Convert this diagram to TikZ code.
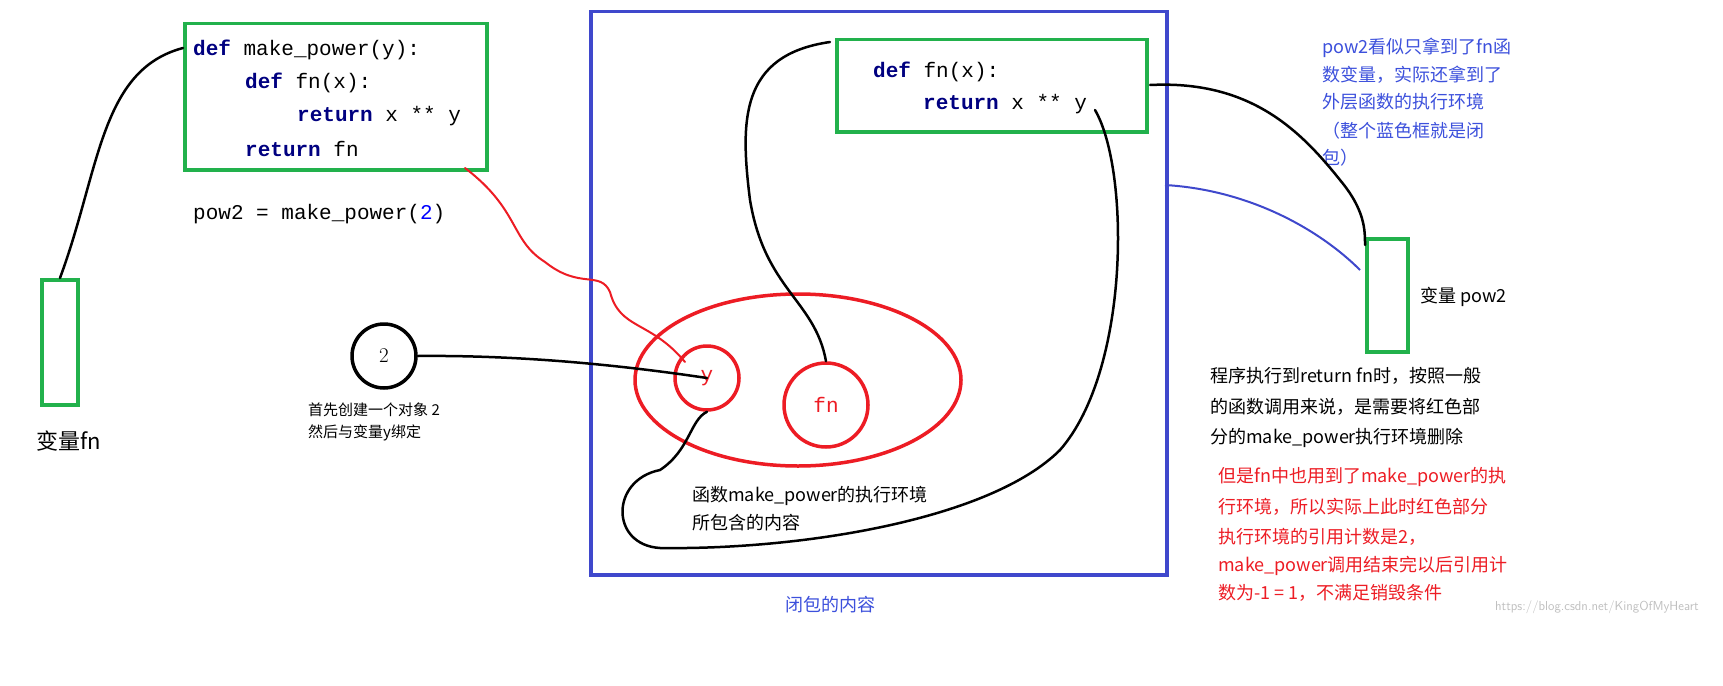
\documentclass[tikz,border=0pt]{standalone}
\usepackage{fontspec}
\setmonofont{Liberation Mono}
\newfontfamily\cjk{Noto Sans CJK SC}
\definecolor{gbox}{RGB}{34,177,76}
\definecolor{bbox}{RGB}{63,72,204}
\definecolor{kw}{RGB}{0,0,128}
\definecolor{rd}{RGB}{237,28,36}
\definecolor{bt}{RGB}{60,80,220}
\tikzset{
 gr/.style={draw=gbox,line width=3.5pt},
 code/.style={anchor=west,inner sep=0,font=\ttfamily\fontsize{21}{24}\selectfont},
 zh/.style={anchor=west,inner sep=0,font=\cjk\fontsize{18}{22}\selectfont},
 hand/.style={line width=2.5pt,line cap=round,line join=round},
}
\newcommand{\kwd}[1]{\textbf{\textcolor{kw}{#1}}}
\begin{document}
\begin{tikzpicture}[x=1pt,y=-1pt]
\useasboundingbox[fill=white] (0,0) rectangle (1723,685);
% left code box
\node[gr,minimum width=302,minimum height=146,anchor=north west] (code1) at (183,22) {};
\node[code] at (193,50) {\kwd{def} make\_power(y):};
\node[code] at (245,83) {\kwd{def} fn(x):};
\node[code] at (297,116) {\kwd{return} x ** y};
\node[code] at (245,149) {\kwd{return} fn};
\node[code] at (193,214) {pow2 = make\_power(\textcolor{blue}{2})};
% var fn
\node[gr,minimum width=36,minimum height=125,anchor=north west] (vfn) at (40,278) {};
\node[zh,font=\cjk\fontsize{22}{26}\selectfont] at (36,441) {变量fn};
% big blue box
\node[draw=bbox,line width=3.5pt,minimum width=576,minimum height=563,anchor=north west] (clo) at (589,10) {};
\node[zh,text=bt] at (785,605) {闭包的内容};
% inner green box
\node[gr,minimum width=310,minimum height=92,anchor=north west] (code2) at (835,38) {};
\node[code] at (873,72) {\kwd{def} fn(x):};
\node[code] at (923,104) {\kwd{return} x ** y};
% red ellipse and circles
\draw[rd,line width=3.5pt] (798,380) ellipse [x radius=163,y radius=86];
\node[draw=rd,line width=3.5pt,circle,minimum size=64,text=rd,font=\ttfamily\fontsize{21}{24}\selectfont] (y) at (707,378) {y};
\node[draw=rd,line width=3.5pt,circle,minimum size=84,text=rd,font=\ttfamily\fontsize{21}{24}\selectfont] (fn) at (826,405) {fn};
% black circle 2
\node[draw,line width=3.5pt,circle,minimum size=64,font=\fontsize{21}{24}\selectfont] (two) at (384,356) {2};
\node[zh,font=\cjk\fontsize{15}{18}\selectfont] at (308,410) {首先创建一个对象 2};
\node[zh,font=\cjk\fontsize{15}{18}\selectfont] at (308,433) {然后与变量y绑定};
\node[zh] at (692,496) {函数make\_power的执行环境};
\node[zh] at (692,523) {所包含的内容};
% var pow2
\node[gr,minimum width=41,minimum height=113,anchor=north west] (vp) at (1365,237) {};
\node[zh] at (1420,297) {变量 pow2};
% blue text
\foreach \t/\yy in {pow2看似只拿到了fn函/48,数变量，实际还拿到了/75,外层函数的执行环境/102,（整个蓝色框就是闭/131,包）/158}
  \node[zh,text=bt] at (1322,\yy) {\t};
\foreach \t/\yy in {程序执行到return fn时，按照一般/376,的函数调用来说，是需要将红色部/407,分的make\_power执行环境删除/438}
  \node[zh] at (1210,\yy) {\t};
\foreach \t/\yy in {但是fn中也用到了make\_power的执/477,行环境，所以实际上此时红色部分/507,执行环境的引用计数是2，/537,make\_power调用结束完以后引用计/566,数为-1 = 1，不满足销毁条件/593}
  \node[zh,text=rd] at (1218,\yy) {\t};
\node[anchor=west,inner sep=0,text=gray!50,font=\sffamily\fontsize{13}{15}\selectfont] at (1495,607) {https://blog.csdn.net/KingOfMyHeart};
% connectors
\coordinate (c1) at (183,48);
\coordinate (b1) at (60,278);
\draw[hand] (b1) .. controls (100,170) and (100,70) .. (c1);
\draw[rd,line width=2pt,line cap=round] (465,168) .. controls (520,210) and (510,240) .. (545,262) .. controls (580,290) and (600,270) .. (610,292) .. controls (620,330) and (650,320) .. (685,362);
\draw[hand] (two.east) .. controls (520,355) and (620,365) .. (y.center);
\draw[hand] (830,42) .. controls (740,55) and (740,120) .. (750,200) .. controls (765,290) and (815,300) .. (fn.north);
\draw[hand] (1095,110) .. controls (1130,170) and (1130,370) .. (1060,450) .. controls (990,520) and (800,550) .. (660,548) .. controls (610,545) and (610,480) .. (660,470) .. controls (690,450) and (690,420) .. (y.south);
\draw[hand] (1150,85) .. controls (1250,80) and (1300,130) .. (1340,180) .. controls (1365,210) and (1365,230) .. (1365,245);
\draw[bbox,line width=2pt] (1165,185) .. controls (1250,190) and (1320,230) .. (1360,270);
\end{tikzpicture}
\end{document}
